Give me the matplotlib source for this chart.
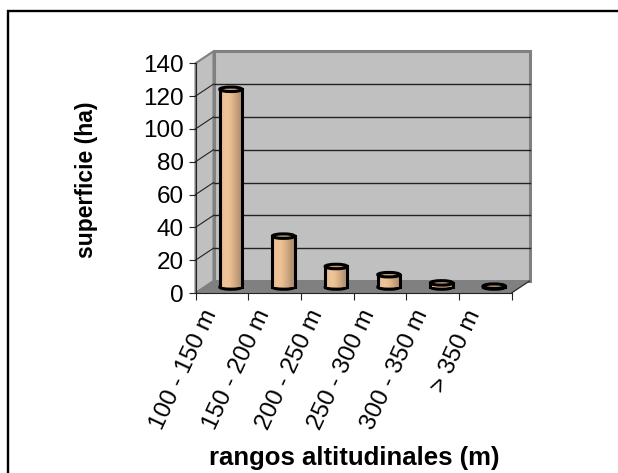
import numpy as np
import matplotlib
matplotlib.use("Agg")
import matplotlib.pyplot as plt
from matplotlib.lines import Line2D
from matplotlib.patches import Ellipse, Polygon, Rectangle

plt.rcParams["font.family"] = ["Liberation Sans", "DejaVu Sans"]

categorias = ["100 - 150 m", "150 - 200 m", "200 - 250 m", "250 - 300 m", "300 - 350 m", "> 350 m"]
superficie = [120.5, 31, 12.5, 7.5, 2.5, 0.5]
y_ticks = [0, 20, 40, 60, 80, 100, 120, 140]
x_label = "rangos altitudinales (m)"
y_label = "superficie (ha)"

w_pix, h_pix = 618, 473
dpi = 100
px_left, px_right, px_bottom, px_top = 195.5, 511.5, 293, 63.3

fig = plt.figure(figsize=(w_pix / dpi, h_pix / dpi), dpi=dpi)

# el marco solo tiene lados superior e izquierdo
fig.add_artist(Line2D([8 / w_pix, 8 / w_pix, 1], [0, 1 - 11 / h_pix, 1 - 11 / h_pix],
                      transform=fig.transFigure, color="black", lw=1.7, solid_joinstyle="miter"))

ax = fig.add_axes([px_left / w_pix, 1 - px_bottom / h_pix, (px_right - px_left) / w_pix, (px_bottom - px_top) / h_pix])
ax.patch.set_alpha(0)
n = len(categorias)

# profundidad del falso 3D en unidades de datos
dx = 18 / ((px_right - px_left) / n)
dy = 12 / ((px_bottom - px_top) / 140)
wall = "#c0c0c0"
edge = "#808080"

ax.add_patch(Polygon([(0, 0), (dx, dy), (dx, 140 + dy), (0, 140)], fc=wall, ec=edge, lw=1.5, clip_on=False, zorder=1))
ax.add_patch(Rectangle((dx, dy), n, 140, fc=wall, ec=edge, lw=2.2, clip_on=False, zorder=1))
ax.add_patch(Polygon([(0, 0), (dx, dy), (n + dx, dy), (n, 0)], fc=edge, ec=edge, lw=0.5, clip_on=False, zorder=1.2))

for v in y_ticks[1:-1]:
    ax.plot([dx, n + dx], [v + dy, v + dy], color="#222222", lw=1, clip_on=False, zorder=1.5)
    ax.plot([0, dx], [v, v + dy], color="#222222", lw=0.8, clip_on=False, zorder=1.5)
ax.plot([n, n + dx], [0, dy], color="#222222", lw=0.8, clip_on=False, zorder=1.5)

# cilindros
bar_w = 0.42
ell_h = 4.5 / ((px_bottom - px_top) / 140)
grad = np.array([[0.91, 0.74, 0.57], [0.95, 0.78, 0.61], [0.90, 0.73, 0.55], [0.80, 0.65, 0.50], [0.68, 0.55, 0.43]])
grad = grad[None, :, :]
for i, v in enumerate(superficie):
    xc = i + 0.5 + dx / 2
    y0 = dy / 2
    top = y0 + v
    x0, x1 = xc - bar_w / 2, xc + bar_w / 2
    ax.add_patch(Ellipse((xc, y0), bar_w, ell_h, fc="#c9a47e", ec="black", lw=2.2, zorder=2.5, clip_on=False))
    ax.imshow(grad, extent=(x0, x1, y0, top), aspect="auto", interpolation="bicubic", zorder=3, clip_on=False)
    ax.plot([x0, x0], [y0, top], color="black", lw=2.2, zorder=4, clip_on=False)
    ax.plot([x1, x1], [y0, top], color="black", lw=2.2, zorder=4, clip_on=False)
    ax.add_patch(Ellipse((xc, top), bar_w, ell_h, fc="#bf9f80", ec="black", lw=2.2, zorder=5, clip_on=False))
ax.set_xlim(0, n)
ax.set_ylim(0, 140)

for s in ["top", "right"]:
    ax.spines[s].set_visible(False)
ax.spines["left"].set_color("#222222")
ax.spines["bottom"].set_color("#222222")
ax.set_yticks(y_ticks)
ax.set_yticklabels([str(v) for v in y_ticks], fontsize=17.5)
ax.set_xticks(range(n + 1))
ax.set_xticklabels([""] * (n + 1))
ax.tick_params(axis="y", length=5, width=0.8, pad=3.5, color="#222222")
ax.tick_params(axis="x", length=5, width=0.8, color="#222222")

for i, c in enumerate(categorias):
    ax.annotate(c, xy=(i + 0.31, 0), xytext=(0, -18), textcoords="offset pixels", rotation=65,
                rotation_mode="anchor", ha="right", va="center", fontsize=17.5, annotation_clip=False)

fig.text(354 / w_pix, 1 - 458 / h_pix, x_label, ha="center", va="center", fontsize=18.5, fontweight="bold")
fig.text(86 / w_pix, 1 - 180 / h_pix, y_label, ha="center", va="center", rotation=90, fontsize=16.5, fontweight="bold")

fig.savefig("out.png", dpi=dpi)
